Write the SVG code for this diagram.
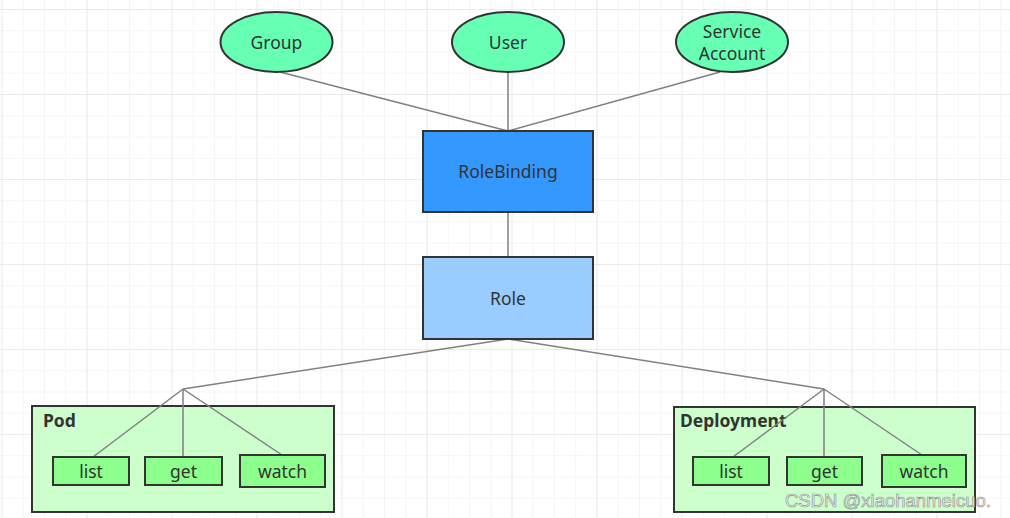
<svg xmlns="http://www.w3.org/2000/svg" width="1010" height="518" viewBox="0 0 1010 518">
<defs>
<pattern id="grid" x="1.5" y="9" width="21.25" height="21.25" patternUnits="userSpaceOnUse">
<path d="M0 0V21.25M0 0H21.25" fill="none" stroke="#ececec" stroke-width="1"/>
</pattern>
<pattern id="major" x="1.5" y="9" width="85" height="85" patternUnits="userSpaceOnUse">
<path d="M0 0V85M0 0H85" fill="none" stroke="#e2e2e2" stroke-width="1"/>
</pattern>
<style>
.t{font-family:"Noto Sans","Open Sans","DejaVu Sans",sans-serif;font-size:17.5px;fill:#333;text-anchor:middle;dominant-baseline:central}
.b{font-family:"Noto Sans","Open Sans","DejaVu Sans",sans-serif;font-size:17.5px;font-weight:bold;fill:#333}
.ell{fill:#66FFB3;stroke:#333;stroke-width:2}
.box{stroke:#333;stroke-width:2}
.grp{fill:#CCFFCC;stroke:#333;stroke-width:2}
.leaf{fill:#8CFF8C;stroke:#333;stroke-width:2}
.c{stroke:#808080;stroke-width:1.5;fill:none}
</style>
</defs>
<rect width="1010" height="518" fill="#ffffff"/>
<rect width="1010" height="518" fill="url(#grid)"/>
<rect width="1010" height="518" fill="url(#major)"/>
<g id="pod">
<rect class="grp" x="32" y="406" width="302" height="106"/>
<text class="b" x="43" y="427">Pod</text>
</g>
<g id="deployment">
<rect class="grp" x="674" y="407" width="301" height="105"/>
<text class="b" x="680" y="427">Deployment</text>
</g>
<g id="connectors">
<path class="c" d="M280 72L508 131M508 72V131M720 72L508 131"/>
<path class="c" d="M508 212V257"/>
<path class="c" d="M508 339L183 389M508 339L824 389"/>
<path class="c" d="M183 389L93 457M183 389V457M183 389L282 455"/>
<path class="c" d="M824 389L733 457M824 389V457M824 389L922 455"/>
</g>
<g id="group"><ellipse class="ell" cx="276.5" cy="42" rx="56" ry="30"/><text class="t" x="276.5" y="42">Group</text></g>
<g id="user"><ellipse class="ell" cx="508" cy="42" rx="56" ry="30"/><text class="t" x="508" y="42">User</text></g>
<g id="serviceaccount"><ellipse class="ell" cx="732" cy="42" rx="56" ry="30"/><text class="t" x="732" y="31">Service</text><text class="t" x="732" y="53">Account</text></g>
<g id="rolebinding"><rect class="box" x="423" y="131" width="170" height="81" fill="#3399FF"/><text class="t" x="508" y="171">RoleBinding</text></g>
<g id="role"><rect class="box" x="423" y="257" width="170" height="82" fill="#99CCFF"/><text class="t" x="508" y="298">Role</text></g>
<g id="pod-list"><rect class="leaf" x="53" y="457" width="76" height="28"/><text class="t" x="91" y="471">list</text></g>
<g id="pod-get"><rect class="leaf" x="145" y="457" width="77" height="28"/><text class="t" x="183.5" y="471">get</text></g>
<g id="pod-watch"><rect class="leaf" x="240" y="455" width="85" height="32"/><text class="t" x="282.5" y="471">watch</text></g>
<g id="dep-list"><rect class="leaf" x="693" y="457" width="76" height="28"/><text class="t" x="731" y="471">list</text></g>
<g id="dep-get"><rect class="leaf" x="787" y="457" width="75" height="28"/><text class="t" x="824.5" y="471">get</text></g>
<g id="dep-watch"><rect class="leaf" x="882" y="455" width="84" height="32"/><text class="t" x="924" y="471">watch</text></g>
<text x="785" y="507" font-family="Liberation Sans, Arial, sans-serif" font-size="18.5" fill="#f4f4f4" stroke="#8a8a8a" stroke-width="0.6">CSDN @xiaohanmeicuo.</text>
</svg>
